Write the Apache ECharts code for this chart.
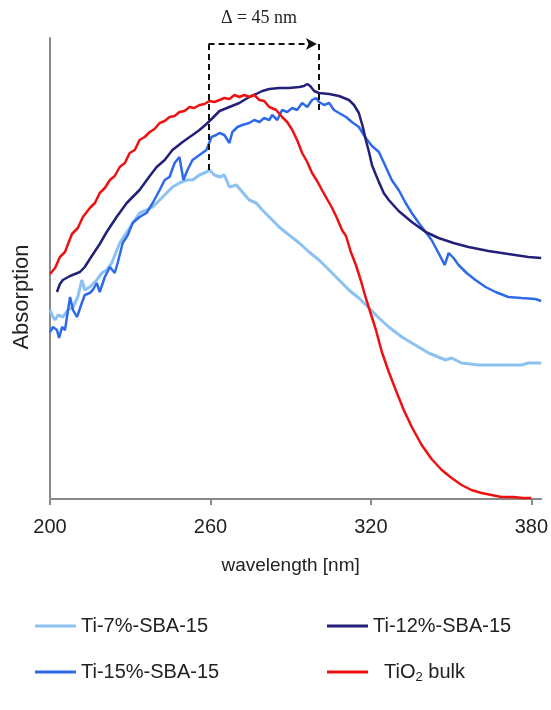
<!DOCTYPE html>
<html>
<head>
<meta charset="utf-8">
<script src="https://cdn.jsdelivr.net/npm/echarts@6/dist/echarts.min.js"></script>
<style>html,body{margin:0;padding:0;background:#fff;}#c{width:551px;height:710px;}</style>
</head>
<body>
<div id="c"></div>
<script>
// ---- data (absorption in arbitrary units) ----
const xTicks = [200, 260, 320, 380];

const ti7X = [200.0,201.1,201.9,203.0,204.8,206.7,208.6,210.4,211.9,213.0,214.9,217.5,219.4,221.2,223.1,225.0,226.1,228.0,229.8,231.7,233.5,236.1,238.4,241.0,243.6,245.8,248.4,251.1,253.3,255.9,258.5,259.6,261.5,263.4,265.2,267.1,269.7,271.9,274.5,277.1,279.4,282.0,285.7,289.4,293.2,296.9,300.6,304.4,308.1,311.8,315.5,319.3,323.0,326.7,331.6,335.3,341.6,347.9,350.2,353.9,360.3,368.8,376.3,378.9,383.7];
const ti7Y = [189,182,179,184,182,189,192,202,219,209,212,219,226,229,236,249,256,264,271,279,286,289,292,299,306,312,316,319,319,324,327,329,324,322,324,312,314,307,299,296,289,282,272,264,256,247,239,229,219,209,201,191,181,172,162,156,146,139,141,136,134,134,134,136,136];

const ti12X = [202.6,203.7,204.8,207.5,211.2,213.0,214.9,218.6,221.2,224.9,228.7,233.5,237.3,239.9,242.9,245.8,249.6,253.3,255.9,258.5,260.8,263.4,267.1,270.8,274.5,277.1,279.4,282.0,285.7,289.4,293.2,295.0,296.2,297.3,298.8,300.6,304.4,308.1,311.8,313.7,315.5,317.0,318.1,319.3,320.4,321.9,323.0,324.8,326.7,330.4,335.3,340.5,345.3,350.9,356.5,364.0,371.4,378.9,383.7];
const ti12Y = [207,215,219,223,227,232,240,255,267,282,296,309,323,332,339,349,357,364,369,375,381,388,392,396,402,405,408,410,411,411,412,413,415,413,408,406,405,403,399,394,386,372,359,347,334,324,317,306,299,288,277,267,261,256,252,248,245,242,241];

const ti15X = [200.0,201.1,202.6,203.4,204.5,205.6,207.5,208.6,210.1,211.9,213.0,214.9,216.0,217.5,218.6,220.5,222.4,224.2,225.3,227.2,229.1,230.9,233.5,236.1,238.4,241.0,242.9,244.7,246.6,248.4,249.9,251.4,253.3,255.9,258.5,260.4,262.2,263.4,265.2,267.1,268.2,270.1,271.9,274.5,276.4,278.3,280.1,282.0,283.1,285.0,286.8,288.7,290.6,292.4,294.3,296.2,298.0,299.5,300.6,302.5,304.4,306.2,308.1,310.7,312.9,315.5,318.1,320.4,323.0,325.6,327.8,330.4,333.0,335.3,337.9,340.5,342.7,345.3,347.6,349.1,350.9,352.8,355.8,359.1,362.9,366.6,371.4,376.3,381.5,383.7];
const ti15Y = [167,172,169,161,172,169,202,189,182,196,204,206,209,216,207,222,232,226,236,256,264,276,282,286,296,309,319,322,336,342,319,329,339,344,349,362,364,366,364,356,367,372,374,376,379,377,381,379,384,379,389,387,391,389,396,392,399,401,397,394,396,389,386,382,377,372,361,353,347,332,319,309,296,286,276,267,259,246,234,246,241,234,226,219,212,207,202,201,200,198];

const tio2X = [200.0,201.9,203.7,205.6,208.2,210.4,212.3,214.9,216.8,218.6,220.5,222.4,224.2,226.1,228.0,229.8,231.7,233.5,235.4,237.3,239.1,241.0,242.9,244.7,246.6,248.4,250.3,252.2,254.0,255.9,257.8,259.6,261.5,263.4,265.2,267.1,269.0,270.8,272.7,274.5,276.4,278.3,280.1,282.0,284.6,286.8,288.7,290.6,292.4,294.3,296.2,298.0,299.9,301.7,303.6,305.5,307.3,309.2,310.7,312.5,314.4,316.3,318.1,320.0,321.9,324.1,326.7,329.3,332.3,335.3,339.0,342.7,346.5,350.2,353.9,357.6,361.4,365.1,368.8,373.3,377.0,380.0];
const tio2Y = [225,231,242,247,265,271,282,291,296,306,311,319,323,332,336,346,349,359,362,367,370,376,378,382,383,387,388,392,391,394,395,398,397,399,401,400,404,402,404,402,404,399,398,392,389,382,377,369,359,346,337,326,318,309,300,291,281,269,263,247,234,218,201,185,169,147,127,109,89,72,54,40,29,21,14,9,6,4,2,2,1,1];

// annotation (Δ = 45 nm) in data units
const deltaX = [259.3, 300.6];
const deltaTop = 455;
const deltaLeftBottom = 329;
const deltaRightBottom = 386;

const names = ['Ti-7%-SBA-15', 'Ti-12%-SBA-15', 'Ti-15%-SBA-15', 'TiO2 bulk'];
const colors = ['#8CC2F2', '#22207A', '#2E6AE8', '#EE1111'];

const zip = (xs, ys) => xs.map((v, i) => [v, ys[i]]);
const FONT = "'Liberation Sans', Arial, sans-serif";

const chart = echarts.init(document.getElementById('c'), null, {renderer: 'canvas'});

function line(name, xs, ys, color, width, extra) {
  return Object.assign({
    name: name, type: 'line', data: zip(xs, ys), showSymbol: false, symbol: 'none',
    clip: false, lineStyle: {color: color, width: width}, itemStyle: {color: color},
    animation: false, silent: true
  }, extra || {});
}

const legendBase = {
  icon: 'rect', itemWidth: 41, itemHeight: 3, padding: 0, itemGap: 0,
  textStyle: {fontFamily: FONT, fontSize: 20, color: '#222', lineHeight: 24,
    rich: {sub: {fontFamily: FONT, fontSize: 13, lineHeight: 13, verticalAlign: 'bottom', color: '#222'}}}
};

chart.setOption({
  backgroundColor: '#fff',
  animation: false,
  grid: {left: 50, right: 8, top: 38, bottom: 211, containLabel: false},
  xAxis: {
    type: 'value', min: 200, max: 383.7,
    name: 'wavelength [nm]', nameLocation: 'middle', nameGap: 57,
    nameTextStyle: {fontFamily: FONT, fontSize: 19, color: '#222', padding: [0, 10, 0, 0]},
    axisLine: {show: true, lineStyle: {color: '#8a8a8a', width: 2}},
    axisTick: {show: true, customValues: xTicks, length: 6, lineStyle: {color: '#8a8a8a', width: 2}},
    axisLabel: {show: true, customValues: xTicks, fontFamily: FONT, fontSize: 20, color: '#222', margin: 18},
    splitLine: {show: false}
  },
  yAxis: {
    type: 'value', min: 0, max: 461,
    axisLine: {show: true, lineStyle: {color: '#8a8a8a', width: 2}},
    axisTick: {show: false}, axisLabel: {show: false}, splitLine: {show: false}
  },
  legend: [
    Object.assign({}, legendBase, {left: 35, top: 614, data: [names[0]]}),
    Object.assign({}, legendBase, {left: 327, top: 614, data: [names[1]]}),
    Object.assign({}, legendBase, {left: 35, top: 660, data: [names[2]]}),
    Object.assign({}, legendBase, {left: 327, top: 660, data: [names[3]],
      formatter: function () { return '  TiO{sub|2} bulk'; }})
  ],
  graphic: [
    {type: 'text', x: 22, y: 297, rotation: Math.PI / 2,
     style: {text: 'Absorption', fontFamily: FONT, fontSize: 22, fill: '#222', textAlign: 'center', textVerticalAlign: 'middle'}},
    {type: 'text', x: 259, y: 18,
     style: {text: 'Δ = 45 nm', fontFamily: "'Liberation Serif', 'Times New Roman', serif", fontSize: 18, fill: '#222', textAlign: 'center', textVerticalAlign: 'middle'}}
  ],
  series: [
    line(names[0], ti7X, ti7Y, colors[0], 3),
    line(names[2], ti15X, ti15Y, colors[2], 2.5),
    line(names[1], ti12X, ti12Y, colors[1], 2.5, {
      markLine: {
        silent: true, symbol: ['none', 'none'], animation: false,
        label: {show: false},
        lineStyle: {color: '#111', type: [6, 4], width: 2},
        data: [
          [{coord: [deltaX[0], deltaTop]}, {coord: [deltaX[0], deltaLeftBottom]}],
          [{coord: [deltaX[1], deltaTop]}, {coord: [deltaX[1], deltaRightBottom]}]
        ]
      }
    }),
    line(names[3], tio2X, tio2Y, colors[3], 2.5, {
      markLine: {
        silent: true, symbol: ['none', 'arrow'], symbolSize: [9, 11], animation: false,
        label: {show: false},
        lineStyle: {color: '#111', type: [6, 4], width: 2},
        data: [
          [{coord: [deltaX[0], deltaTop]}, {coord: [deltaX[1] - 0.8, deltaTop]}]
        ]
      }
    })
  ]
});
</script>
</body>
</html>
